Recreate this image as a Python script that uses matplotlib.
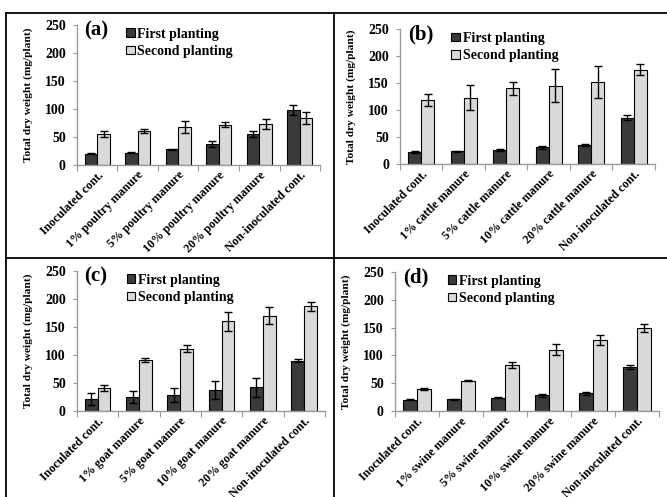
import matplotlib
matplotlib.use("Agg")
import matplotlib.pyplot as plt
from matplotlib.lines import Line2D
from matplotlib.patches import Patch
import matplotlib.transforms as mtransforms
import numpy as np

plt.rcParams['font.family'] = ['Liberation Serif', 'DejaVu Serif']
plt.rcParams['font.weight'] = 'bold'

panel_letters = ["(a)", "(b)", "(c)", "(d)"]
manures = ["poultry", "cattle", "goat", "swine"]
series_names = ["First planting", "Second planting"]

first_a = [20, 22, 28, 37, 55, 98]
first_a_err = [1, 1, 1, 5, 5, 9]
second_a = [55, 61, 68, 72, 74, 84]
second_a_err = [5, 4, 10, 5, 9, 10]

first_b = [22, 23.5, 26, 31, 35, 86]
first_b_err = [1.5, 1, 1.5, 3, 2, 4]
second_b = [119, 123, 140, 145, 152, 175]
second_b_err = [11, 23, 12, 31, 29, 10]

first_c = [21.5, 25.5, 29, 38, 42, 90]
first_c_err = [10.5, 11, 12.5, 16, 17.5, 3]
second_c = [41, 91, 111, 160, 170, 187]
second_c_err = [5, 3.5, 6, 17.5, 15, 8.5]

first_d = [20, 21, 24, 28, 32, 79]
first_d_err = [1, 1, 1, 2.5, 2.5, 3.5]
second_d = [40, 54.5, 83, 110, 127, 150]
second_d_err = [1.5, 1, 5, 10, 9, 7]

y_ticks = [0, 50, 100, 150, 200, 250]

panels = [
    (first_a, first_a_err, second_a, second_a_err),
    (first_b, first_b_err, second_b, second_b_err),
    (first_c, first_c_err, second_c, second_c_err),
    (first_d, first_d_err, second_d, second_d_err),
]

# axes rectangles [left, bottom, width, height] in figure fraction
rects = [
    [0.1154, 0.668, 0.3644, 0.2817],
    [0.5997, 0.670, 0.3823, 0.2716],
    [0.1154, 0.173, 0.3716, 0.2817],
    [0.5920, 0.173, 0.3960, 0.2797],
]

dark = "#3a3a3a"
light = "#d9d9d9"
spine_col = "#9a9a9a"

fig = plt.figure(figsize=(6.67, 4.97), dpi=100)

# panel frame lines
W, H = 667.0, 497.0
frame = dict(color="black", lw=1.3, transform=fig.transFigure, zorder=10)
fig.add_artist(Line2D([5.5 / W, 1.0], [1 - 12.5 / H] * 2, **frame))
fig.add_artist(Line2D([5.5 / W] * 2, [0, 1 - 12.5 / H], **frame))
fig.add_artist(Line2D([334 / W] * 2, [0, 1 - 12.5 / H], **frame))
fig.add_artist(Line2D([5.5 / W, 1.0], [1 - 257.5 / H] * 2, **frame))

shift = mtransforms.ScaledTranslation(5 / 100, 2 / 100, fig.dpi_scale_trans)

bw = 0.31
for i, (f, fe, s, se) in enumerate(panels):
    ax = fig.add_axes(rects[i])
    labels = ["Inoculated cont.", f"1% {manures[i]} manure", f"5% {manures[i]} manure",
              f"10% {manures[i]} manure", f"20% {manures[i]} manure", "Non-inoculated cont."]
    x = np.arange(len(labels))
    ekw = dict(ecolor="black", elinewidth=1.0, capsize=3, capthick=1.0)
    ax.bar(x - bw / 2, f, bw, yerr=fe, color=dark, edgecolor="black", lw=0.8,
           error_kw=ekw, zorder=2)
    ax.bar(x + bw / 2, s, bw, yerr=se, color=light, edgecolor="black", lw=0.8,
           error_kw=ekw, zorder=2)
    ax.set_xlim(-0.5, len(labels) - 0.5)
    ax.set_ylim(0, 250)
    ax.set_yticks(y_ticks)
    ax.set_yticklabels([str(t) for t in y_ticks], fontsize=10, fontweight="bold")
    ax.set_xticks(np.arange(len(labels) + 1) - 0.5, minor=False)
    ax.set_xticklabels([])
    ax.set_xticks(x, minor=True)
    ax.set_xticklabels(labels, minor=True, rotation=45, ha="right", va="top",
                       rotation_mode="anchor", fontsize=8.7, fontweight="bold")
    for lab in ax.get_xticklabels(minor=True):
        lab.set_transform(lab.get_transform() + shift)
    ax.tick_params(axis="x", which="minor", length=0, pad=3)
    ax.tick_params(axis="x", which="major", length=4, color=spine_col, direction="out")
    ax.tick_params(axis="y", length=3, color=spine_col, direction="out", pad=5)
    for side in ("top", "right"):
        ax.spines[side].set_visible(False)
    for side in ("left", "bottom"):
        ax.spines[side].set_color(spine_col)
        ax.spines[side].set_linewidth(1.0)
    ax.set_ylabel("Total dry weight (mg/plant)", fontsize=8.2, fontweight="bold", labelpad=9)
    ax.text(0.03, 1.03, panel_letters[i], transform=ax.transAxes, fontsize=15,
            fontweight="bold", va="top", ha="left")
    handles = [Patch(facecolor=dark, edgecolor="black", lw=0.8),
               Patch(facecolor=light, edgecolor="black", lw=0.8)]
    ax.legend(handles, series_names, loc="upper left", bbox_to_anchor=(0.18, 1.02),
              frameon=False, handlelength=0.6, handleheight=0.6, handletextpad=0.2,
              labelspacing=0.3, borderaxespad=0.0,
              prop=dict(family="Liberation Serif", weight="bold", size=10))

fig.savefig("out.png", dpi=100)
